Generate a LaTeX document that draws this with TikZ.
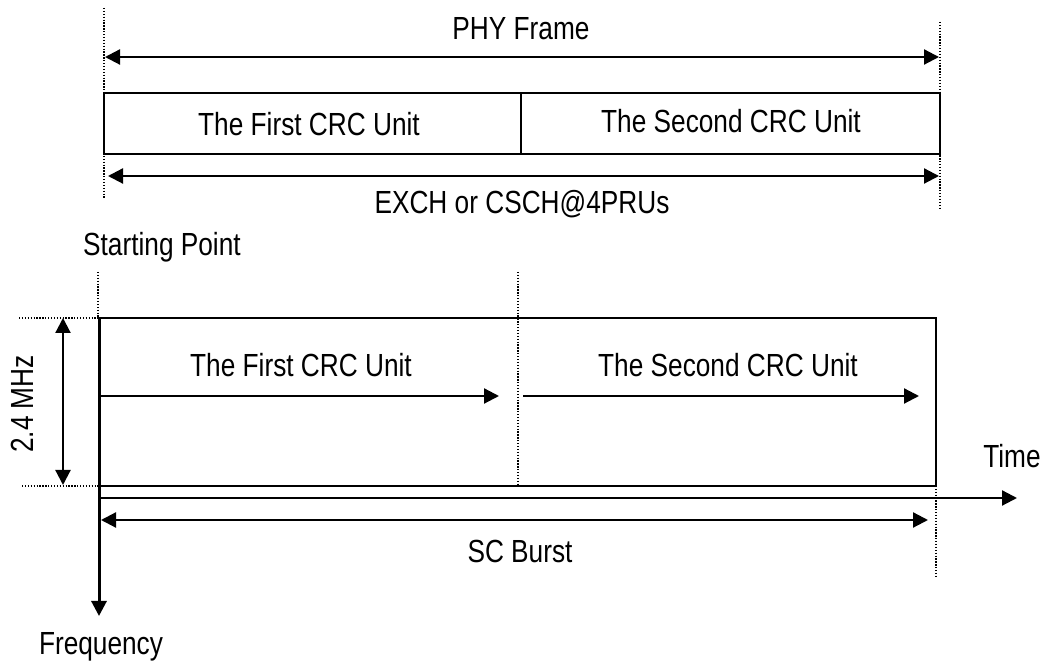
\documentclass[tikz,border=0pt]{standalone}
\usepackage{fontspec}
\setmainfont{Liberation Sans}[FakeStretch=0.82]
\usetikzlibrary{arrows.meta}
\begin{document}
\begin{tikzpicture}[x=1pt,y=1pt,
  lbl/.style={font=\fontsize{32}{36}\selectfont, inner sep=0pt, anchor=base},
  dotln/.style={line width=1.3pt, dash pattern=on 1.3pt off 1.6pt},
  boxln/.style={draw, line width=1.8pt, inner sep=0pt, outer sep=0pt, anchor=south west},
  tip/.tip={Triangle[length=15pt,width=15pt]},
  arr/.style={line width=2.2pt, -tip},
  darr/.style={line width=2.2pt, tip-tip},
]
\useasboundingbox (0,0) rectangle (1050,664);
% ---------- top part ----------
\coordinate (tdL1) at (104,656); \coordinate (tdL2) at (104,466);
\coordinate (tdR1) at (940,642); \coordinate (tdR2) at (940,454);
\draw[dotln] (tdL1) -- (tdL2);
\draw[dotln] (tdR1) -- (tdR2);
\node[lbl] (phy) at (521,624) {PHY Frame};
\coordinate (pa1) at (105,607); \coordinate (pa2) at (939,607);
\draw[darr] (pa1) -- (pa2);
\node[boxln, minimum width=417, minimum height=61] (u1) at (104,510) {};
\node[boxln, minimum width=419, minimum height=61] (u2) at (521,510) {};
\node[lbl] (u1t) at (309,528) {The First CRC Unit};
\node[lbl] (u2t) at (731,531) {The Second CRC Unit};
\coordinate (ea1) at (108,488); \coordinate (ea2) at (939,488);
\draw[darr] (ea1) -- (ea2);
\node[lbl] (exch) at (522,450) {EXCH or CSCH@4PRUs};
% ---------- bottom part ----------
\node[lbl, anchor=base west] (start) at (83,408) {Starting Point};
\coordinate (sd1) at (98,392); \coordinate (sd2) at (98,346);
\draw[dotln] (sd1) -- (sd2);
\node[boxln, minimum width=837, minimum height=168] (burst) at (99,178) {};
\coordinate (md1) at (518,392); \coordinate (md2) at (518,178);
\draw[dotln] (md1) -- (md2);
\coordinate (rd1) at (936,178); \coordinate (rd2) at (936,87);
\draw[dotln] (rd1) -- (rd2);
% frequency band marks
\coordinate (hd1) at (19,346); \coordinate (hd2) at (99,346);
\coordinate (hd3) at (22,178); \coordinate (hd4) at (99,178);
\draw[dotln] (hd1) -- (hd2);
\draw[dotln] (hd3) -- (hd4);
\coordinate (ba1) at (63,346); \coordinate (ba2) at (63,179);
\draw[darr] (ba1) -- (ba2);
\node[lbl, rotate=90] (mhz) at (33,260) {2.4 MHz};
% CRC unit arrows
\node[lbl] (b1t) at (301,287) {The First CRC Unit};
\node[lbl] (b2t) at (728,287) {The Second CRC Unit};
\coordinate (c1a) at (101,268); \coordinate (c1b) at (499,268);
\coordinate (c2a) at (523,268); \coordinate (c2b) at (919,268);
\draw[arr] (c1a) -- (c1b);
\draw[arr] (c2a) -- (c2b);
% time axis
\coordinate (ta1) at (99,166); \coordinate (ta2) at (1017,166);
\draw[arr] (ta1) -- (ta2);
\node[lbl] (time) at (1012,196) {Time};
% SC burst
\coordinate (sc1) at (101,144); \coordinate (sc2) at (928,144);
\draw[darr] (sc1) -- (sc2);
\node[lbl] (scb) at (520,101) {SC Burst};
% frequency axis
\coordinate (fa1) at (99,346); \coordinate (fa2) at (99,48);
\draw[line width=3pt, -tip] (fa1) -- (fa2);
\node[lbl] (freq) at (101,9) {Frequency};
\end{tikzpicture}
\end{document}
